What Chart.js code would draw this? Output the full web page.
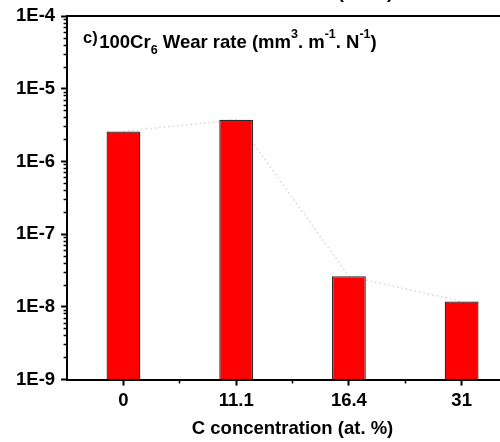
<!DOCTYPE html>
<html>
<head>
<meta charset="utf-8">
<script src="https://cdn.jsdelivr.net/npm/chart.js@4.4.1/dist/chart.umd.min.js"></script>
<style>
  html, body { margin: 0; padding: 0; width: 500px; height: 442px; overflow: hidden; background: #fff; }
  #wrap { position: absolute; left: 0; top: -20px; width: 540px; height: 462px; }
</style>
</head>
<body>
<div id="wrap"><canvas id="wearChart"></canvas></div>
<script>
const xLabels = ['0', '11.1', '16.4', '31'];
const wearRate = [2.6e-6, 3.77e-6, 2.64e-8, 1.19e-8];
const yDecades = [1e-9, 1e-8, 1e-7, 1e-6, 1e-5, 1e-4];
const yTickLabels = ['1E-9', '1E-8', '1E-7', '1E-6', '1E-5', '1E-4'];
const yMinorSteps = [2, 3, 4, 5, 6, 7, 8, 9];
const xTitle = 'C concentration (at. %)';
const noteParts = [
  ['lead', 'c)'], ['main', '100Cr'], ['sub', '6'], ['main', ' Wear rate (mm'],
  ['sup', '3'], ['main', '. m'], ['sup', '-1'], ['main', '. N'], ['sup', '-1'], ['main', ')'],
];

const FONT = '"Liberation Sans", Arial, sans-serif';

// tick positions: category centres plus the half steps between them
const xTickValues = [];
xLabels.forEach((_, i) => {
  xTickValues.push(i);
  if (i < xLabels.length - 1) xTickValues.push(i + 0.5);
});
const yTickValues = [];
yDecades.forEach((d, i) => {
  yTickValues.push(d);
  if (i < yDecades.length - 1) yMinorSteps.forEach((m) => yTickValues.push(m * d));
});

const decadeIndex = (v) => yDecades.findIndex((d) => Math.abs(v / d - 1) < 1e-9);
const points = wearRate.map((v, i) => ({ x: i, y: v }));

const notePlugin = {
  id: 'note',
  afterDraw(chart) {
    const { ctx, chartArea } = chart;
    const styles = { lead: [16.5, -5, 1.5], main: [18.5, 0, 0], sub: [12.5, 6, 0], sup: [12.5, -10, 0] };
    let x = chartArea.left + 16;
    const base = chartArea.top + 32;
    ctx.save();
    ctx.fillStyle = '#000';
    ctx.textAlign = 'left';
    ctx.textBaseline = 'alphabetic';
    noteParts.forEach(([kind, text]) => {
      const [size, dy, gap] = styles[kind];
      ctx.font = 'bold ' + size + 'px ' + FONT;
      ctx.fillText(text, x, base + dy);
      x += ctx.measureText(text).width + gap;
    });
    ctx.restore();
  },
};

new Chart(document.getElementById('wearChart'), {
  data: {
    datasets: [
      {
        type: 'bar',
        data: points,
        backgroundColor: '#ff0000',
        borderColor: '#2a2a2a',
        borderWidth: 1.3,
        barPercentage: 0.6,
        categoryPercentage: 1,
        order: 1,
      },
      {
        type: 'line',
        data: points,
        borderColor: '#d6d6d6',
        borderWidth: 1.5,
        borderDash: [1.5, 3],
        pointRadius: 0,
        tension: 0,
        order: 2,
      },
    ],
  },
  options: {
    responsive: true,
    maintainAspectRatio: false,
    animation: false,
    layout: { padding: { left: 10, right: 22, top: 2, bottom: 0 } },
    plugins: { legend: { display: false }, tooltip: { enabled: false } },
    scales: {
      x: {
        type: 'linear',
        position: 'bottom',
        min: -0.5,
        max: 3.5,
        offset: false,
        afterBuildTicks: (s) => { s.ticks = xTickValues.map((v) => ({ value: v })); },
        grid: {
          display: true,
          offset: false,
          drawOnChartArea: false,
          drawTicks: true,
          tickLength: 6,
          tickColor: '#000',
          tickWidth: (c) => (Number.isInteger(c.tick.value) ? 2 : 1.5),
          tickBorderDash: (c) => (Number.isInteger(c.tick.value) ? [] : [2.5, 20]),
        },
        border: { display: true, color: '#000', width: 2 },
        ticks: {
          autoSkip: false,
          maxRotation: 0,
          padding: 4,
          color: '#000',
          font: { family: FONT, size: 18.5, weight: 'bold' },
          callback: (v) => (Number.isInteger(v) ? xLabels[v] : ''),
        },
        title: {
          display: true,
          text: xTitle,
          color: '#000',
          font: { family: FONT, size: 18.5, weight: 'bold' },
          padding: { top: 2, bottom: 2 },
        },
      },
      x2: {
        type: 'linear',
        position: 'top',
        min: -0.5,
        max: 3.5,
        grid: { display: false, drawTicks: false },
        ticks: { display: false },
        border: { display: true, color: '#000', width: 2 },
        title: {
          display: true,
          text: xTitle,
          color: '#000',
          font: { family: FONT, size: 18.5, weight: 'bold' },
          padding: { top: 0, bottom: 12 },
        },
      },
      y: {
        type: 'logarithmic',
        position: 'left',
        min: 1e-9,
        max: 1e-4,
        afterBuildTicks: (s) => { s.ticks = yTickValues.map((v) => ({ value: v })); },
        grid: {
          display: true,
          drawOnChartArea: false,
          drawTicks: true,
          tickLength: 6,
          tickColor: '#000',
          tickWidth: (c) => (decadeIndex(c.tick.value) >= 0 ? 2 : 1.5),
          tickBorderDash: (c) => (decadeIndex(c.tick.value) >= 0 ? [] : [0, 2.5, 2.5, 20]),
        },
        border: { display: true, color: '#000', width: 2 },
        ticks: {
          autoSkip: false,
          padding: 6,
          color: '#000',
          font: { family: FONT, size: 18.5, weight: 'bold' },
          callback: (v) => {
            const k = decadeIndex(v);
            return k >= 0 ? yTickLabels[k] : '';
          },
        },
      },
    },
  },
  plugins: [notePlugin],
});
</script>
</body>
</html>
